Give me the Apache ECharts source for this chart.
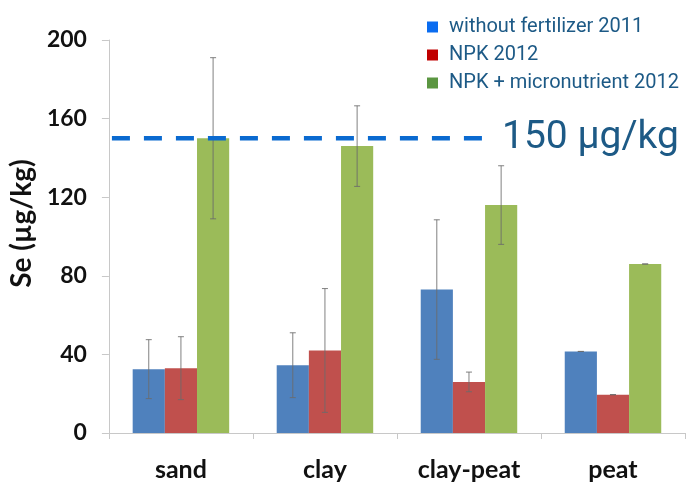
<!DOCTYPE html>
<html>
<head>
<meta charset="utf-8">
<script src="https://cdn.jsdelivr.net/npm/echarts@6/dist/echarts.min.js"></script>
<style>
  html, body { margin: 0; padding: 0; background: #fff; }
  #chart { width: 687px; height: 488px; }
</style>
</head>
<body>
<div id="chart"></div>
<script>
// Selenium content by soil type
const soils = ['sand', 'clay', 'clay-peat', 'peat'];
const seriesNames = ['without fertilizer 2011', 'NPK 2012', 'NPK + micronutrient 2012'];
const noFertilizer = [32.5, 34.5, 73, 41.5];
const npk = [33, 42, 26, 19.5];
const npkMicro = [150, 146, 116, 86];
// standard deviations
const noFertilizerErr = [15, 16.5, 35.5, 0];
const npkErr = [16, 31.5, 5, 0];
const npkMicroErr = [41, 20.5, 20, 0];
const threshold = 150;
const yTicks = [0, 40, 80, 120, 160, 200];

const barColors = ['#4F81BD', '#C0504D', '#9BBB59'];
const legendColors = ['#0A6CF0', '#C00000', '#5B9641'];
const textBlue = '#1D5A86';
const values = [noFertilizer, npk, npkMicro];
const errors = [noFertilizerErr, npkErr, npkMicroErr];

const chart = echarts.init(document.getElementById('chart'));

const barSeries = seriesNames.map((name, i) => ({
  name,
  type: 'bar',
  data: values[i],
  barGap: '0%',
  barCategoryGap: '33%',
  itemStyle: { color: barColors[i] },
  z: 2
}));

// whiskers drawn over the bars, offset to each bar's slot
const errorSeries = seriesNames.map((name, i) => ({
  name: name + ' err',
  type: 'custom',
  z: 5,
  silent: true,
  data: values[i].map((v, k) => [k, v, errors[i][k]]),
  renderItem(params, api) {
    const k = api.value(0), v = api.value(1), e = api.value(2);
    const center = api.coord([k, v]);
    const bandW = api.size([1, 0])[0];
    const barW = bandW * 0.67 / 3;
    const x = center[0] + (i - 1) * barW;
    const top = api.coord([k, v + e])[1];
    const bot = api.coord([k, v - e])[1];
    const cap = 3;
    const style = { stroke: '#6b6b6b', lineWidth: 1, opacity: 0.85 };
    return {
      type: 'group',
      children: [
        { type: 'line', shape: { x1: x, y1: top, x2: x, y2: bot }, style },
        { type: 'line', shape: { x1: x - cap, y1: top, x2: x + cap, y2: top }, style },
        { type: 'line', shape: { x1: x - cap, y1: bot, x2: x + cap, y2: bot }, style }
      ]
    };
  }
}));

// dashed reference level with its caption
const thresholdSeries = {
  name: 'threshold',
  type: 'custom',
  z: 6,
  silent: true,
  data: [[0, threshold]],
  renderItem(params, api) {
    const y = api.coord([0, api.value(1)])[1];
    const cs = params.coordSys;
    const x1 = cs.x + 3;
    const x2 = api.coord([2, 0])[0] + 18;
    return {
      type: 'group',
      children: [
        {
          type: 'line',
          shape: { x1, y1: y, x2, y2: y },
          style: { stroke: '#0A6AD0', lineWidth: 4.5, lineDash: [18, 14] }
        },
        {
          type: 'text',
          x: x2 + 15,
          y: y,
          style: {
            text: threshold + ' µg/kg',
            fill: textBlue,
            font: '39px Roboto, sans-serif',
            verticalAlign: 'middle',
            align: 'left'
          }
        }
      ]
    };
  }
};

chart.setOption({
  animation: false,
  backgroundColor: '#fff',
  grid: { left: 105, right: 2, top: 40, bottom: 55 },
  legend: {
    orient: 'vertical',
    left: 422,
    top: 12,
    itemWidth: 11,
    itemHeight: 11,
    itemGap: 8,
    icon: 'rect',
    textStyle: { color: textBlue, fontSize: 20, fontFamily: 'Roboto', padding: [0, 0, 0, 6] },
    data: seriesNames.map((n, i) => ({ name: n, itemStyle: { color: legendColors[i] } }))
  },
  xAxis: {
    type: 'category',
    data: soils,
    axisLine: { lineStyle: { color: '#c8c8c8' } },
    axisTick: { show: true, length: 6, lineStyle: { color: '#c8c8c8' } },
    axisLabel: {
      color: '#111',
      fontSize: 25,
      fontWeight: 'bold',
      fontFamily: 'Lato',
      margin: 24
    }
  },
  yAxis: {
    type: 'value',
    min: yTicks[0],
    max: yTicks[yTicks.length - 1],
    interval: yTicks[1] - yTicks[0],
    name: 'Se (µg/kg)',
    nameLocation: 'middle',
    nameGap: 68,
    nameRotate: 90,
    nameTextStyle: {
      color: '#111', fontSize: 28, fontWeight: 'bold', fontFamily: 'Lato',
      padding: [0, 0, 0, 26]
    },
    axisLine: { show: true, lineStyle: { color: '#c8c8c8' } },
    axisTick: { show: true, length: 7, lineStyle: { color: '#c8c8c8' } },
    splitLine: { show: false },
    axisLabel: {
      color: '#111',
      fontSize: 23,
      fontWeight: 'bold',
      fontFamily: 'Lato',
      margin: 22
    }
  },
  series: [...barSeries, ...errorSeries, thresholdSeries]
});
</script>
</body>
</html>
